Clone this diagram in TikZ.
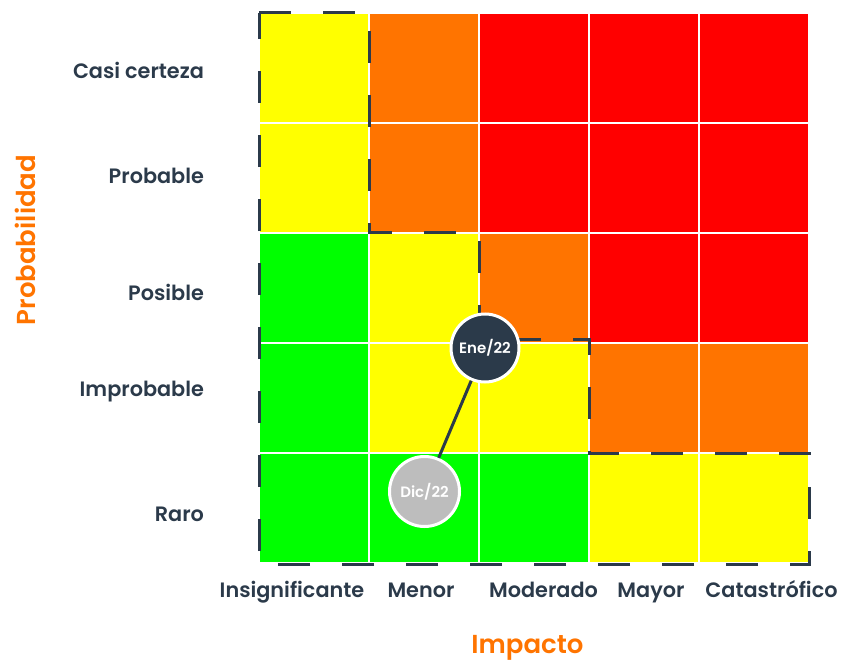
\documentclass[tikz,border=0pt]{standalone}
\usepackage{fontspec}
\setmainfont{Poppins}[UprightFont=*-SemiBold,BoldFont=*-Bold]
\definecolor{cY}{HTML}{FFFF00}
\definecolor{cO}{HTML}{FF7400}
\definecolor{cR}{HTML}{FF0000}
\definecolor{cG}{HTML}{00FF00}
\definecolor{ink}{HTML}{2B3A4A}
\definecolor{axis}{HTML}{FF7400}
\definecolor{grayc}{HTML}{BDBDBD}
\tikzset{
  cell/.style={inner sep=0pt,minimum width=108pt,minimum height=108pt,draw=none},
  ylab/.style={anchor=base east,text=ink,font=\fontsize{20.8}{24}\selectfont},
  xlab/.style={anchor=base,text=ink,font=\fontsize{20.8}{24}\selectfont},
  axlab/.style={anchor=base,text=axis,font=\fontsize{26}{30}\selectfont},
  zone/.style={draw=ink,line width=3pt,dash pattern=on 32pt off 32pt,line join=miter},
  datemark/.style={circle,draw=white,line width=3pt,inner sep=0pt,minimum size=68pt,text=white,font=\fontsize{15}{17}\selectfont},
  link/.style={draw=ink,line width=3pt}
}
\begin{document}
\begin{tikzpicture}[x=1pt,y=-1pt]
\useasboundingbox (0,0) rectangle (844,661);
% cells
\foreach \r/\row in {0/{cY,cO,cR,cR,cR},1/{cY,cO,cR,cR,cR},2/{cG,cY,cO,cR,cR},3/{cG,cY,cY,cO,cO},4/{cG,cG,cG,cY,cY}}{
  \foreach \c [count=\i from 0] in \row {
    \node[cell,fill=\c] (c\r\i) at (314+110*\i,68+110*\r) {};
  }
}
% zone boundary
\draw[zone] (259,13) -- (369,13) -- (369,232) -- (479,232) -- (479,339) -- (589,339) -- (589,453) -- (809,453) -- (809,564) -- (259,564) -- cycle;
% markers
\node[datemark,fill=ink] (ene) at (485,348) {Ene/22};
\node[datemark,fill=grayc,minimum size=70pt] (dic) at (424.5,491.5) {Dic/22};
\draw[link] (ene) -- (dic);
% y labels
\node[ylab] (l0) at (207.5,78) {Casi certeza};
\node[ylab] (l1) at (207.5,183) {Probable};
\node[ylab] (l2) at (207.5,300) {Posible};
\node[ylab] (l3) at (207.5,396) {Improbable};
\node[ylab] (l4) at (207.5,521) {Raro};
% x labels
\node[xlab] (k0) at (292,597) {Insignificante};
\node[xlab] (k1) at (421,597) {Menor};
\node[xlab] (k2) at (543.5,597) {Moderado};
\node[xlab] (k3) at (651,597) {Mayor};
\node[xlab] (k4) at (771.5,597) {Catastrófico};
% axis titles
\node[axlab] (ix) at (527.5,653) {Impacto};
\node[axlab,rotate=90] (iy) at (35,240) {Probabilidad};
\end{tikzpicture}
\end{document}
